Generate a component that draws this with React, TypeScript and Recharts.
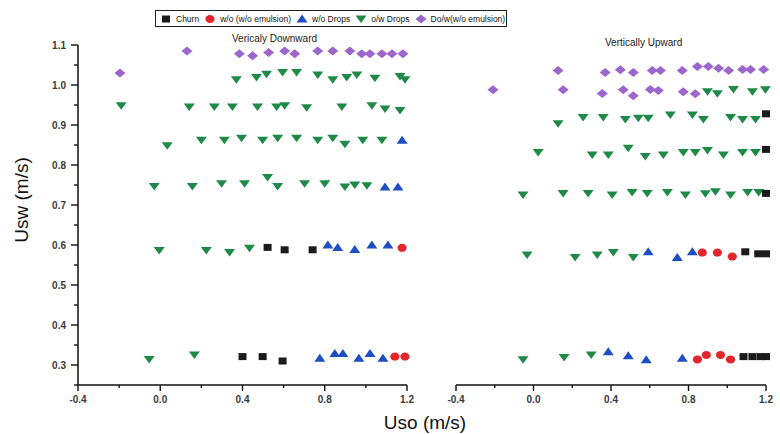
import React from 'react';
import { ScatterChart, Scatter, XAxis, YAxis } from 'recharts';

type Pt = [number, number];

// axis ticks
const xTicks = [-0.4, -0.2, 0, 0.2, 0.4, 0.6, 0.8, 1.0, 1.2];
const xMajor = [-0.4, 0, 0.4, 0.8, 1.2];
const yTicks = [0.25, 0.3, 0.35, 0.4, 0.45, 0.5, 0.55, 0.6, 0.65, 0.7, 0.75, 0.8, 0.85, 0.9, 0.95, 1.0, 1.05, 1.1];
const yMajor = [0.3, 0.4, 0.5, 0.6, 0.7, 0.8, 0.9, 1.0, 1.1];

// vertically downward
const downChurn: Pt[] = [
  [0.522, 0.594], [0.605, 0.588], [0.741, 0.588],
  [0.4, 0.321], [0.498, 0.321], [0.595, 0.31],
];
const downWo: Pt[] = [[1.176, 0.593], [1.141, 0.321], [1.19, 0.321]];
const downWoDrops: Pt[] = [
  [1.176, 0.862], [1.093, 0.745], [1.156, 0.745],
  [0.815, 0.6], [0.863, 0.594], [0.946, 0.589], [1.029, 0.6], [1.107, 0.6],
  [0.776, 0.317], [0.849, 0.329], [0.888, 0.329], [0.966, 0.317], [1.02, 0.329], [1.083, 0.317],
];
const downOwDrops: Pt[] = [
  [0.37, 1.013], [0.468, 1.019], [0.517, 1.027], [0.595, 1.031], [0.663, 1.031], [0.766, 1.025],
  [0.839, 1.013], [0.907, 1.019], [0.956, 1.025], [1.044, 1.017], [1.166, 1.021], [1.19, 1.013],
  [-0.19, 0.948], [0.141, 0.945], [0.263, 0.945], [0.351, 0.945], [0.473, 0.945], [0.566, 0.945],
  [0.605, 0.948], [0.712, 0.943], [0.883, 0.945], [1.029, 0.948], [1.093, 0.94], [1.166, 0.936],
  [0.034, 0.848], [0.2, 0.862], [0.312, 0.862], [0.395, 0.867], [0.498, 0.862], [0.571, 0.867],
  [0.663, 0.867], [0.766, 0.862], [0.839, 0.867], [0.898, 0.852], [0.985, 0.862], [1.078, 0.862],
  [-0.029, 0.746], [0.156, 0.746], [0.298, 0.753], [0.41, 0.753], [0.522, 0.769], [0.571, 0.746],
  [0.702, 0.753], [0.8, 0.753], [0.898, 0.745], [0.946, 0.75], [1.005, 0.748],
  [-0.005, 0.586], [0.224, 0.586], [0.337, 0.581], [0.434, 0.592],
  [-0.054, 0.314], [0.166, 0.325],
];
const downDow: Pt[] = [
  [-0.196, 1.03], [0.13, 1.085],
  [0.385, 1.078], [0.449, 1.073], [0.527, 1.081], [0.605, 1.085], [0.654, 1.078], [0.766, 1.085],
  [0.839, 1.085], [0.922, 1.085], [0.98, 1.078], [1.02, 1.078], [1.078, 1.078], [1.127, 1.078], [1.18, 1.078],
];

// vertically upward
const upChurn: Pt[] = [
  [1.2, 0.928], [1.2, 0.839], [1.2, 0.729],
  [1.093, 0.583], [1.16, 0.578], [1.2, 0.578],
  [1.084, 0.321], [1.13, 0.321], [1.172, 0.321], [1.2, 0.321],
];
const upWo: Pt[] = [
  [0.871, 0.581], [0.949, 0.581], [1.026, 0.571],
  [0.846, 0.314], [0.892, 0.325], [0.965, 0.325], [1.017, 0.314],
];
const upWoDrops: Pt[] = [
  [0.592, 0.583], [0.742, 0.569], [0.82, 0.583],
  [0.386, 0.333], [0.489, 0.323], [0.582, 0.313], [0.768, 0.317],
];
const upOwDrops: Pt[] = [
  [0.898, 0.983], [0.949, 0.978], [1.032, 0.989], [1.13, 0.983], [1.197, 0.988],
  [0.127, 0.903], [0.256, 0.919], [0.36, 0.919], [0.474, 0.914], [0.541, 0.917], [0.592, 0.917],
  [0.706, 0.925], [0.82, 0.925], [0.877, 0.914], [1.017, 0.919], [1.079, 0.914], [1.146, 0.914],
  [0.024, 0.831], [0.303, 0.825], [0.386, 0.825], [0.489, 0.842], [0.577, 0.821], [0.67, 0.825],
  [0.773, 0.831], [0.835, 0.831], [0.898, 0.836], [0.98, 0.825], [1.079, 0.831], [1.146, 0.831],
  [-0.054, 0.725], [0.153, 0.729], [0.282, 0.729], [0.406, 0.725], [0.509, 0.731], [0.587, 0.729],
  [0.691, 0.731], [0.784, 0.725], [0.887, 0.728], [0.939, 0.733], [1.017, 0.725], [1.105, 0.731], [1.162, 0.731],
  [-0.033, 0.575], [0.215, 0.569], [0.329, 0.575], [0.412, 0.581], [0.515, 0.569],
  [-0.054, 0.313], [0.158, 0.319], [0.298, 0.325],
];
const upDow: Pt[] = [
  [0.127, 1.036], [0.37, 1.031], [0.448, 1.038], [0.515, 1.031], [0.613, 1.036], [0.655, 1.036],
  [0.768, 1.036], [0.846, 1.046], [0.902, 1.046], [0.955, 1.042], [1.007, 1.036], [1.079, 1.039],
  [1.12, 1.039], [1.188, 1.039],
  [-0.209, 0.988], [0.153, 0.988], [0.355, 0.979], [0.463, 0.988], [0.515, 0.973], [0.603, 0.989],
  [0.644, 0.986], [0.773, 0.983], [0.835, 0.978],
];

const C = {
  churn: '#1b1b1b',
  wo: '#e3262b',
  woDrops: '#1d4fc2',
  owDrops: '#1f8a48',
  dow: '#9c66cc',
};

const FONT = '"Liberation Sans", Arial, sans-serif';

const toXY = (pts: Pt[]) => pts.map(([x, y]) => ({ x, y }));
const near = (list: number[], v: number) => list.some((m) => Math.abs(m - v) < 1e-6);

// marker shapes
const square = (fill: string) => (p: any) => (
  <rect x={p.cx - 4} y={p.cy - 3.5} width={8} height={7} fill={fill} />
);
const circle = (fill: string) => (p: any) => (
  <ellipse cx={p.cx} cy={p.cy} rx={4.6} ry={4} fill={fill} />
);
const triUp = (fill: string) => (p: any) => (
  <path d={`M${p.cx - 5.5},${p.cy + 3.5}L${p.cx + 5.5},${p.cy + 3.5}L${p.cx},${p.cy - 4.5}Z`} fill={fill} />
);
const triDown = (fill: string) => (p: any) => (
  <path d={`M${p.cx - 5.5},${p.cy - 3.5}L${p.cx + 5.5},${p.cy - 3.5}L${p.cx},${p.cy + 4}Z`} fill={fill} />
);
const diamond = (fill: string) => (p: any) => (
  <path d={`M${p.cx - 5.5},${p.cy}L${p.cx},${p.cy - 4.5}L${p.cx + 5.5},${p.cy}L${p.cx},${p.cy + 4.5}Z`} fill={fill} />
);

const XTick = (props: any) => {
  const { x, y, payload } = props;
  const major = near(xMajor, payload.value);
  return (
    <g>
      <line x1={x} x2={x} y1={y} y2={y + (major ? 6 : 3)} stroke="#111" strokeWidth={1.4} />
      {major && (
        <text x={x} y={y + 18} textAnchor="middle" fontSize={10} fontWeight={600} fill="#3a3a3a" fontFamily={FONT}>
          {payload.value.toFixed(1)}
        </text>
      )}
    </g>
  );
};

const YTick = (props: any) => {
  const { x, y, payload } = props;
  const major = near(yMajor, payload.value);
  return (
    <g>
      <line x1={x - (major ? 7 : 4)} x2={x} y1={y} y2={y} stroke="#111" strokeWidth={1.4} />
      {major && (
        <text x={x - 12} y={y + 3.5} textAnchor="end" fontSize={10} fontWeight={600} fill="#3a3a3a" fontFamily={FONT}>
          {payload.value.toFixed(1)}
        </text>
      )}
    </g>
  );
};

const axisLine = { stroke: '#111', strokeWidth: 1.5 };

const Panel: React.FC<{
  left: number;
  width: number;
  margin: { top: number; right: number; bottom: number; left: number };
  showY: boolean;
  churn: Pt[];
  wo: Pt[];
  woDrops: Pt[];
  owDrops: Pt[];
  dow: Pt[];
}> = ({ left, width, margin, showY, churn, wo, woDrops, owDrops, dow }) => (
  <div style={{ position: 'absolute', left, top: 0 }}>
    <ScatterChart width={width} height={434} margin={margin} style={{ overflow: 'visible' }}>
      <XAxis
        type="number"
        dataKey="x"
        domain={[-0.4, 1.2]}
        ticks={xTicks}
        interval={0}
        height={49}
        tickSize={0}
        tickMargin={0}
        tickLine={false}
        axisLine={axisLine}
        tick={XTick}
      />
      <YAxis
        type="number"
        dataKey="y"
        domain={[0.25, 1.1]}
        ticks={yTicks}
        interval={0}
        width={showY ? 78 : 0}
        hide={!showY}
        tickSize={0}
        tickMargin={0}
        tickLine={false}
        axisLine={axisLine}
        tick={YTick}
      />
      <Scatter data={toXY(owDrops)} shape={triDown(C.owDrops)} isAnimationActive={false} />
      <Scatter data={toXY(dow)} shape={diamond(C.dow)} isAnimationActive={false} />
      <Scatter data={toXY(churn)} shape={square(C.churn)} isAnimationActive={false} />
      <Scatter data={toXY(woDrops)} shape={triUp(C.woDrops)} isAnimationActive={false} />
      <Scatter data={toXY(wo)} shape={circle(C.wo)} isAnimationActive={false} />
    </ScatterChart>
  </div>
);

const legendItems = [
  { name: 'Churn', color: C.churn, kind: 'square' },
  { name: 'w/o (w/o emulsion)', color: C.wo, kind: 'circle' },
  { name: 'w/o Drops', color: C.woDrops, kind: 'up' },
  { name: 'o/w Drops', color: C.owDrops, kind: 'down' },
  { name: 'Do/w(w/o emulsion)', color: C.dow, kind: 'diamond' },
];

const LegendIcon: React.FC<{ color: string; kind: string }> = ({ color, kind }) => {
  const p = { cx: 6, cy: 6 };
  const shape =
    kind === 'square' ? square(color)(p)
    : kind === 'circle' ? circle(color)(p)
    : kind === 'up' ? triUp(color)(p)
    : kind === 'down' ? triDown(color)(p)
    : diamond(color)(p);
  return (
    <svg width={12} height={12} style={{ display: 'block' }}>
      {shape}
    </svg>
  );
};

export default function App() {
  return (
    <div style={{ position: 'absolute', left: 0, top: 0, width: 780, height: 434, background: '#fff', fontFamily: FONT }}>
      <Panel
        left={0}
        width={420}
        margin={{ top: 45, right: 13, bottom: 0, left: 0 }}
        showY
        churn={downChurn}
        wo={downWo}
        woDrops={downWoDrops}
        owDrops={downOwDrops}
        dow={downDow}
      />
      <Panel
        left={420}
        width={360}
        margin={{ top: 45, right: 14, bottom: 0, left: 36 }}
        showY={false}
        churn={upChurn}
        wo={upWo}
        woDrops={upWoDrops}
        owDrops={upOwDrops}
        dow={upDow}
      />

      {/* legend */}
      <div
        style={{
          position: 'absolute',
          left: 155,
          top: 10,
          width: 352,
          height: 17,
          border: '1px solid #222',
          boxSizing: 'border-box',
          display: 'flex',
          alignItems: 'center',
          paddingLeft: 4,
          fontSize: 8.5,
          color: '#111',
          whiteSpace: 'nowrap',
          overflow: 'hidden',
        }}
      >
        {legendItems.map((it) => (
          <div key={it.name} style={{ display: 'flex', alignItems: 'center', marginRight: 5 }}>
            <LegendIcon color={it.color} kind={it.kind} />
            <span style={{ marginLeft: 4 }}>{it.name}</span>
          </div>
        ))}
      </div>

      {/* panel titles */}
      <div style={{ position: 'absolute', left: 232, top: 33, fontSize: 10, color: '#222' }}>Vericaly Downward</div>
      <div style={{ position: 'absolute', left: 605, top: 37, fontSize: 10, color: '#222' }}>Vertically Upward</div>

      {/* axis titles */}
      <div
        style={{
          position: 'absolute',
          left: 22,
          top: 200,
          transform: 'translate(-50%, -50%) rotate(-90deg)',
          fontSize: 19,
          color: '#111',
          whiteSpace: 'nowrap',
        }}
      >
        Usw (m/s)
      </div>
      <div
        style={{
          position: 'absolute',
          left: 425,
          top: 423,
          transform: 'translate(-50%, -50%)',
          fontSize: 19,
          color: '#111',
          whiteSpace: 'nowrap',
        }}
      >
        Uso (m/s)
      </div>
    </div>
  );
}
